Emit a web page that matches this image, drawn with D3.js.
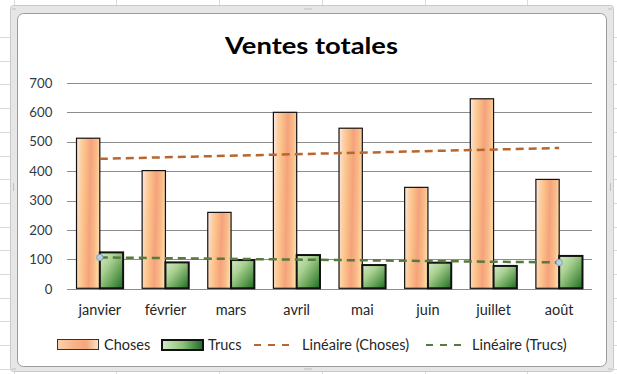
<!DOCTYPE html>
<html lang="fr">
<head>
<meta charset="utf-8">
<script src="https://cdn.jsdelivr.net/npm/d3@7"></script>
<style>
  html, body { margin: 0; padding: 0; background: #ffffff; }
  svg { display: block; }
  text { font-family: Lato, "Open Sans", sans-serif; }
</style>
</head>
<body>
<svg id="chart" width="617" height="374"></svg>
<script>
// Monthly sales of two product lines
const months = ["janvier", "février", "mars", "avril", "mai", "juin", "juillet", "août"];
const choses = [510, 400, 258, 598, 544, 343, 644, 370];
const trucs  = [122, 88, 96, 113, 79, 87, 76, 110];
const yTicks = [0, 100, 200, 300, 400, 500, 600, 700];
const seriesNames = ["Choses", "Trucs"];
const trendNames = ["Linéaire (Choses)", "Linéaire (Trucs)"];
const title = "Ventes totales";

const W = 617, H = 374;
const svg = d3.select("#chart");
const defs = svg.append("defs");

// ---- spreadsheet cells behind the chart object ----
const cellLines = svg.append("g").attr("stroke", "#dadada").attr("stroke-width", 1);
for (let x = 13.5; x < W; x += 102.75) {
  cellLines.append("line").attr("x1", Math.round(x) + 0.5).attr("x2", Math.round(x) + 0.5).attr("y1", 0).attr("y2", H);
}
for (let y = 37; y < H; y += 23.7) {
  cellLines.append("line").attr("x1", 0).attr("x2", W).attr("y1", Math.round(y) + 0.5).attr("y2", Math.round(y) + 0.5);
}

// ---- chart frame ----
svg.append("rect")
  .attr("x", 10.5).attr("y", 5.5).attr("width", 603).attr("height", 366)
  .attr("rx", 3).attr("fill", "#e6e6e6").attr("stroke", "#c9c9c9");
svg.append("rect")
  .attr("x", 17.5).attr("y", 13.5).attr("width", 589).attr("height", 353)
  .attr("rx", 6).attr("fill", "#ffffff").attr("stroke", "#9c9c9c");

// resize handles
const handles = svg.append("g").attr("fill", "#9a9a9a");
function dotRow(cx, cy, n, horizontal) {
  for (let i = 0; i < n; i++) {
    const o = (i - (n - 1) / 2) * 2;
    handles.append("rect")
      .attr("x", horizontal ? cx + o - 0.5 : cx - 0.5)
      .attr("y", horizontal ? cy - 0.5 : cy + o - 0.5)
      .attr("width", 1).attr("height", 1);
  }
}
dotRow(308, 9, 4, true);
dotRow(308, 369, 4, true);
dotRow(13.5, 187, 4, false);
dotRow(610.5, 187, 4, false);
dotRow(14, 9, 2, true);
dotRow(610, 9, 2, true);
dotRow(14, 369, 2, true);
dotRow(610, 369, 2, true);

// ---- gradients for the bar fills ----
const gC = defs.append("linearGradient").attr("id", "gradChoses")
  .attr("x1", 0).attr("y1", 0).attr("x2", 1).attr("y2", 0.12);
[[0, "#fde9f0"], [0.18, "#fcd2a8"], [0.38, "#fbbf86"], [0.62, "#f5a27c"], [0.85, "#f9bb88"], [1, "#fdd6a2"]]
  .forEach(([o, c]) => gC.append("stop").attr("offset", o).attr("stop-color", c));

const gT = defs.append("linearGradient").attr("id", "gradTrucs")
  .attr("x1", 0).attr("y1", 0).attr("x2", 1).attr("y2", 1);
[[0, "#d4e9c6"], [0.35, "#a9d192"], [0.7, "#5f9c52"], [1, "#1a6a25"]]
  .forEach(([o, c]) => gT.append("stop").attr("offset", o).attr("stop-color", c));

const gCLeg = defs.append("linearGradient").attr("id", "gradChosesLeg")
  .attr("x1", 0).attr("y1", 0).attr("x2", 1).attr("y2", 0);
[[0, "#fbd0ae"], [0.4, "#f8b488"], [0.7, "#f6a67e"], [1, "#fde2c8"]]
  .forEach(([o, c]) => gCLeg.append("stop").attr("offset", o).attr("stop-color", c));

const gTLeg = defs.append("linearGradient").attr("id", "gradTrucsLeg")
  .attr("x1", 0).attr("y1", 0).attr("x2", 1).attr("y2", 0);
[[0, "#d6eac8"], [0.5, "#8fc27b"], [1, "#1d6b28"]]
  .forEach(([o, c]) => gTLeg.append("stop").attr("offset", o).attr("stop-color", c));

// ---- scales ----
const plotLeft = 67, plotRight = 592, plotTop = 82.3, plotBottom = 288.3;
const x = d3.scaleBand().domain(months).range([plotLeft, plotRight]).padding(0);
const y = d3.scaleLinear().domain([0, 700]).range([plotBottom, plotTop]);
const groupW = x.bandwidth() * 0.71;
const xs = d3.scaleBand().domain(seriesNames).range([0, groupW]).padding(0);
const groupOffset = (x.bandwidth() - groupW) / 2;

// ---- gridlines and value labels ----
const yAxis = d3.axisLeft(y).tickValues(yTicks).tickSize(-(plotRight - plotLeft));
const yg = svg.append("g").attr("transform", `translate(${plotLeft},0)`).call(yAxis);
yg.select(".domain").remove();
yg.selectAll(".tick line").attr("stroke", "#8c8c8c").attr("stroke-width", 1)
  .attr("transform", function () {
    const t = d3.select(this.parentNode).attr("transform");
    const ty = +t.match(/,\s*([\d.]+)/)[1];
    return `translate(0,${Math.round(ty) + 0.5 - ty})`;
  });
yg.selectAll(".tick text")
  .attr("font-family", "'DejaVu Sans', sans-serif")
  .attr("font-size", 13.2).attr("fill", "#333840").attr("dy", "0.36em")
  .attr("x", -14.7);

// ---- bars ----
const rows = months.map((m, i) => ({ month: m, Choses: choses[i], Trucs: trucs[i] }));
const barG = svg.append("g");
rows.forEach(r => {
  seriesNames.forEach(s => {
    const bx = x(r.month) + groupOffset + xs(s);
    barG.append("rect")
      .attr("x", bx).attr("y", y(r[s]))
      .attr("width", xs.bandwidth()).attr("height", y(0) - y(r[s]))
      .attr("fill", s === "Choses" ? "url(#gradChoses)" : "url(#gradTrucs)")
      .attr("stroke", "#111111")
      .attr("stroke-width", s === "Choses" ? 1.2 : 2);
  });
});

// ---- linear trendlines (least squares over the month index) ----
function linearFit(values) {
  const n = values.length;
  const xsI = values.map((_, i) => i + 1);
  const mx = d3.mean(xsI), my = d3.mean(values);
  const sxy = d3.sum(xsI, (xi, i) => (xi - mx) * (values[i] - my));
  const sxx = d3.sum(xsI, xi => (xi - mx) ** 2);
  const slope = sxy / sxx;
  const b = my - slope * mx;
  return [[1, b + slope], [n, b + slope * n]];
}
const cx = m => x(m) + x.bandwidth() / 2;
const trendColors = ["#b8662f", "#587a3c"];
[choses, trucs].forEach((vals, k) => {
  const fit = linearFit(vals);
  svg.append("line")
    .attr("x1", cx(months[0])).attr("y1", y(fit[0][1]))
    .attr("x2", cx(months[months.length - 1])).attr("y2", y(fit[1][1]))
    .attr("stroke", trendColors[k]).attr("stroke-width", 2.5)
    .attr("stroke-dasharray", "8,5");
  if (k === 1) {
    // selection markers on the trendline ends
    fit.forEach(p => {
      svg.append("circle")
        .attr("cx", cx(months[p[0] - 1])).attr("cy", y(p[1])).attr("r", 3.2)
        .attr("fill", "#b9d0de").attr("stroke", "#7e9fb6").attr("stroke-width", 1);
    });
  }
});

// ---- category labels ----
svg.append("g").selectAll("text").data(months).join("text")
  .attr("x", d => cx(d)).attr("y", 315)
  .attr("text-anchor", "middle").attr("font-size", 14.5).attr("fill", "#262626")
  .text(d => d);

// ---- title ----
svg.append("text")
  .attr("x", 311.5).attr("y", 53.5)
  .attr("text-anchor", "middle").attr("font-size", 22).attr("font-weight", 700)
  .attr("textLength", 173).attr("lengthAdjust", "spacingAndGlyphs")
  .attr("fill", "#000000")
  .text(title);

// ---- legend ----
const legY = 345;
const leg = svg.append("g").attr("font-size", 14.5).attr("fill", "#262626");
leg.append("rect").attr("x", 57.5).attr("y", legY - 5.5).attr("width", 41).attr("height", 10)
  .attr("fill", "url(#gradChosesLeg)").attr("stroke", "#333333").attr("stroke-width", 1);
leg.append("text").attr("x", 104).attr("y", legY).attr("dy", "0.35em").text(seriesNames[0]);
leg.append("rect").attr("x", 162).attr("y", legY - 5).attr("width", 41).attr("height", 10)
  .attr("fill", "url(#gradTrucsLeg)").attr("stroke", "#111111").attr("stroke-width", 2);
leg.append("text").attr("x", 208).attr("y", legY).attr("dy", "0.35em").text(seriesNames[1]);
leg.append("line").attr("x1", 254).attr("x2", 291).attr("y1", legY).attr("y2", legY)
  .attr("stroke", trendColors[0]).attr("stroke-width", 2).attr("stroke-dasharray", "7,7");
leg.append("text").attr("x", 302).attr("y", legY).attr("dy", "0.35em").text(trendNames[0]);
leg.append("line").attr("x1", 426).attr("x2", 463).attr("y1", legY).attr("y2", legY)
  .attr("stroke", trendColors[1]).attr("stroke-width", 2).attr("stroke-dasharray", "7,7");
leg.append("text").attr("x", 472).attr("y", legY).attr("dy", "0.35em").text(trendNames[1]);
</script>
</body>
</html>
